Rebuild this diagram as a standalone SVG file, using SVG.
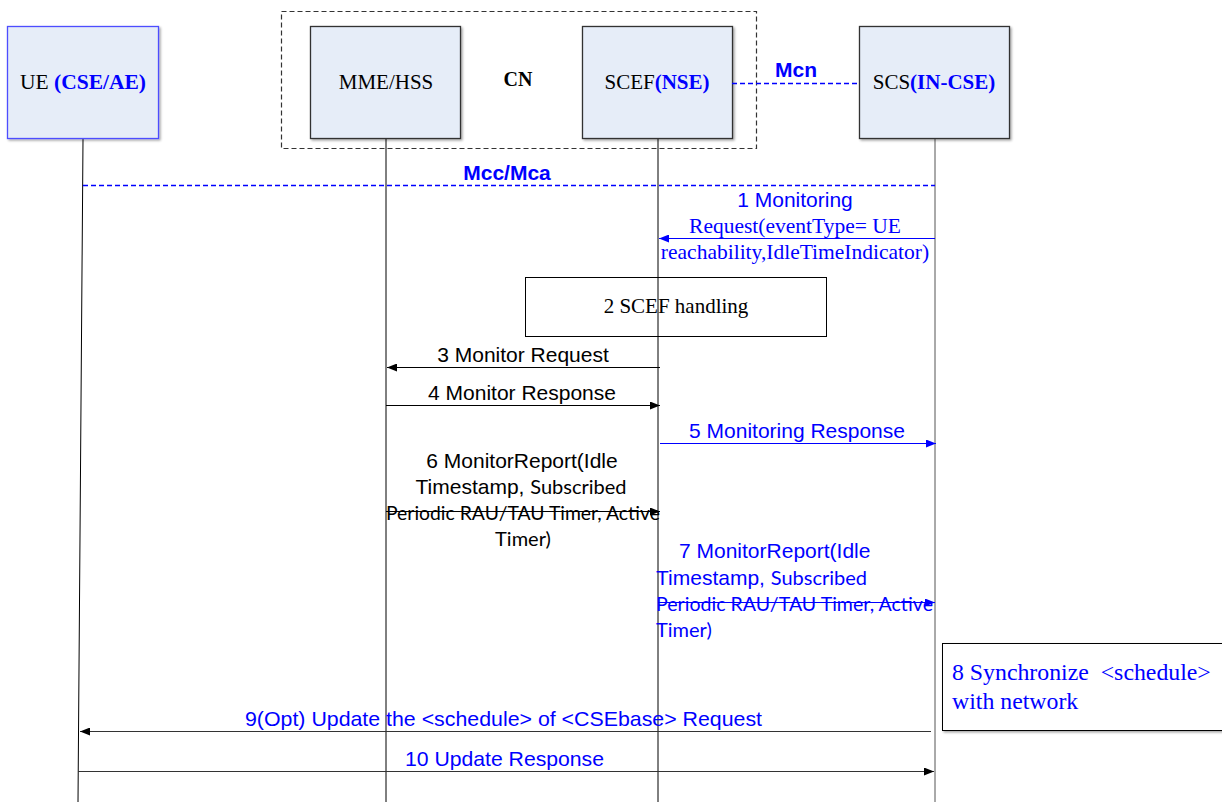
<svg xmlns="http://www.w3.org/2000/svg" width="1222" height="802" viewBox="0 0 1222 802">
  <defs>
    <marker id="ahBlack" markerWidth="10" markerHeight="8" refX="10" refY="4" orient="auto" markerUnits="userSpaceOnUse">
      <path d="M0,0 L10,4 L0,8 Z" fill="#000"/>
    </marker>
    <marker id="ahBlue" markerWidth="10" markerHeight="8" refX="10" refY="4" orient="auto" markerUnits="userSpaceOnUse">
      <path d="M0,0 L10,4 L0,8 Z" fill="#0000ff"/>
    </marker>
    <filter id="shadow" x="-5%" y="-5%" width="115%" height="115%">
      <feDropShadow dx="1.5" dy="1.5" stdDeviation="0.8" flood-color="#000" flood-opacity="0.35"/>
    </filter>
  </defs>
  <style>
    .entity { fill: #e6edf8; stroke-width: 1.3; }
    .serif { font-family: "Liberation Serif", "Times New Roman", serif; }
    .sans { font-family: "Liberation Sans", Arial, sans-serif; }
    .cal { font-family: Lato, "Open Sans", sans-serif; }
    .blue { fill: #0000ff; }
    .ink { fill: #000; }
    .life { stroke-width: 1; fill: none; }
    .msg { stroke-width: 1.2; fill: none; }
    .msgBlue { stroke: #0000ff; stroke-width: 1.2; fill: none; }
    .refDash { stroke: #0000ff; stroke-width: 1.5; stroke-dasharray: 5 3; fill: none; }
  </style>
  <rect width="1222" height="802" fill="#fff"/>

  <!-- core network grouping -->
  <g id="cn">
    <rect x="281.5" y="11.5" width="475" height="137" fill="none" stroke="#333" stroke-width="1.2" stroke-dasharray="5 3"/>
    <text class="serif ink" x="518" y="86" font-size="20" font-weight="bold" text-anchor="middle">CN</text>
  </g>

  <!-- lifelines -->
  <g id="lifelines">
    <line class="life" x1="83" y1="139" x2="78" y2="802" stroke="#000"/>
    <line class="life" x1="386" y1="139" x2="386" y2="802" stroke="#000"/>
    <line class="life" x1="658" y1="139" x2="658" y2="802" stroke="#000"/>
    <line class="life" x1="935" y1="139" x2="935" y2="802" stroke="#555"/>
  </g>

  <g id="ue">
    <rect class="entity" x="7.5" y="26.5" width="151" height="112" stroke="#4d4dff" filter="url(#shadow)"/>
    <text class="serif" x="83" y="89" font-size="21.5" text-anchor="middle"><tspan class="ink">UE </tspan><tspan class="blue" font-weight="bold">(CSE/AE)</tspan></text>
  </g>

  <g id="mme-hss">
    <rect class="entity" x="310.5" y="26.5" width="150" height="112" stroke="#333" filter="url(#shadow)"/>
    <text class="serif ink" x="386" y="89" font-size="21" text-anchor="middle">MME/HSS</text>
  </g>

  <g id="scef">
    <rect class="entity" x="582.5" y="26.5" width="150" height="112" stroke="#333" filter="url(#shadow)"/>
    <text class="serif" x="657" y="89" font-size="21" text-anchor="middle"><tspan class="ink">SCEF</tspan><tspan class="blue" font-weight="bold">(NSE)</tspan></text>
  </g>

  <g id="scs">
    <rect class="entity" x="859.5" y="26.5" width="150" height="112" stroke="#333" filter="url(#shadow)"/>
    <text class="serif" x="934" y="89" font-size="21" text-anchor="middle"><tspan class="ink">SCS</tspan><tspan class="blue" font-weight="bold">(IN-CSE)</tspan></text>
  </g>

  <g id="scef-handling">
    <rect x="525.5" y="277.5" width="301" height="59" fill="none" stroke="#000" stroke-width="1"/>
    <text class="serif ink" x="676" y="313" font-size="21" text-anchor="middle">2 SCEF handling</text>
  </g>

  <g id="sync-schedule">
    <rect x="942.5" y="643.5" width="290" height="87" fill="#fff" stroke="#000" stroke-width="1" filter="url(#shadow)"/>
    <text class="serif blue" x="952" y="680" font-size="23.8" xml:space="preserve">8 Synchronize  &lt;schedule&gt;</text>
    <text class="serif blue" x="952" y="709" font-size="23.8">with network</text>
  </g>

  <!-- reference points and messages -->
  <g id="connectors">
    <line class="refDash" x1="732" y1="83.5" x2="859" y2="83.5"/>
    <text class="sans blue" x="796" y="77" font-size="21" font-weight="bold" text-anchor="middle">Mcn</text>

    <line class="refDash" x1="83" y1="185.5" x2="935" y2="185.5"/>
    <text class="sans blue" x="507" y="180" font-size="21" font-weight="bold" text-anchor="middle">Mcc/Mca</text>

    <!-- 1 -->
    <line class="msgBlue" x1="935" y1="238.5" x2="659" y2="238.5" marker-end="url(#ahBlue)"/>
    <text class="sans blue" x="795" y="207" font-size="21" text-anchor="middle">1 Monitoring</text>
    <text class="serif blue" x="795" y="233" font-size="21.5" text-anchor="middle">Request(eventType= UE</text>
    <text class="serif blue" x="795" y="259" font-size="21.5" text-anchor="middle">reachability,IdleTimeIndicator)</text>

    <!-- 3 -->
    <line class="msg" x1="660" y1="367.5" x2="387" y2="367.5" stroke="#000" marker-end="url(#ahBlack)"/>
    <text class="sans ink" x="523" y="362" font-size="21" text-anchor="middle">3 Monitor Request</text>

    <!-- 4 -->
    <line class="msg" x1="386" y1="405.5" x2="660" y2="405.5" stroke="#000" marker-end="url(#ahBlack)"/>
    <text class="sans ink" x="522" y="400" font-size="21" text-anchor="middle">4 Monitor Response</text>

    <!-- 5 -->
    <line class="msgBlue" x1="660" y1="443.5" x2="936" y2="443.5" marker-end="url(#ahBlue)"/>
    <text class="sans blue" x="797" y="438" font-size="21" text-anchor="middle">5 Monitoring Response</text>

    <!-- 6 -->
    <line class="msg" x1="386" y1="511.5" x2="660" y2="511.5" stroke="#000" marker-end="url(#ahBlack)"/>
    <text class="sans ink" x="522" y="468" font-size="21" text-anchor="middle">6 MonitorReport(Idle</text>
    <text class="ink" x="521" y="494" text-anchor="middle"><tspan class="sans" font-size="21">Timestamp, </tspan><tspan class="cal" font-size="20">Subscribed</tspan></text>
    <text class="cal ink" x="386" y="520" font-size="20" textLength="274" lengthAdjust="spacingAndGlyphs">Periodic RAU/TAU Timer, Active</text>
    <text class="cal ink" x="523" y="546" font-size="20" text-anchor="middle">Timer)</text>

    <!-- 7 -->
    <line class="msgBlue" x1="658" y1="602.5" x2="935" y2="602.5" marker-end="url(#ahBlue)"/>
    <text class="sans blue" x="679" y="558" font-size="21">7 MonitorReport(Idle</text>
    <text class="blue" x="656" y="585"><tspan class="sans" font-size="21">Timestamp, </tspan><tspan class="cal" font-size="20">Subscribed</tspan></text>
    <text class="cal blue" x="656" y="611" font-size="20" textLength="277" lengthAdjust="spacingAndGlyphs">Periodic RAU/TAU Timer, Active</text>
    <text class="cal blue" x="656" y="637" font-size="20">Timer)</text>

    <!-- 9 -->
    <line class="msg" x1="931" y1="731.5" x2="80" y2="731.5" stroke="#333" marker-end="url(#ahBlack)"/>
    <text class="sans blue" x="245" y="726" font-size="21" textLength="517" lengthAdjust="spacingAndGlyphs">9(Opt) Update the &lt;schedule&gt; of &lt;CSEbase&gt; Request</text>

    <!-- 10 -->
    <line class="msg" x1="78" y1="771.5" x2="934" y2="771.5" stroke="#333" marker-end="url(#ahBlack)"/>
    <text class="sans blue" x="405" y="766" font-size="21" textLength="199" lengthAdjust="spacingAndGlyphs">10 Update Response</text>
  </g>
</svg>
